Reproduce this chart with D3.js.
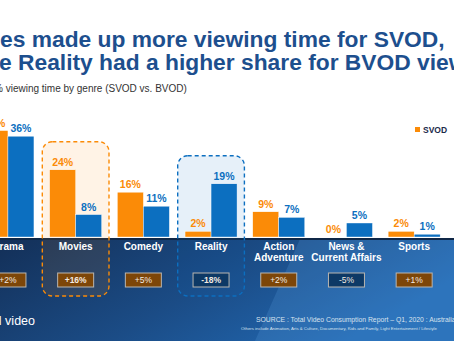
<!DOCTYPE html>
<html>
<head>
<meta charset="utf-8">
<script src="https://cdn.jsdelivr.net/npm/d3@7"></script>
<style>
  body { margin: 0; background: #fff; }
  svg { display: block; font-family: "Liberation Sans", Arial, sans-serif; }
</style>
</head>
<body>
<div id="chart"></div>
<script>
// genre share of viewing time, SVOD vs BVOD
var genres = ["Drama", "Movies", "Comedy", "Reality", "Action Adventure", "News & Current Affairs", "Sports"];
var genreLines = [["Drama"], ["Movies"], ["Comedy"], ["Reality"], ["Action", "Adventure"], ["News &", "Current Affairs"], ["Sports"]];
var svod = [38, 24, 16, 2, 9, 0, 2];
var bvod = [36, 8, 11, 19, 7, 5, 1];
var diffs = ["+2%", "+16%", "+5%", "-18%", "+2%", "-5%", "+1%"];
var series = ["SVOD", "BVOD"];
var highlights = [{ genre: "Movies", key: "SVOD" }, { genre: "Reality", key: "BVOD" }];

var svgWidth = 454;
var svgHeight = 341;
var baseY = 237;

var colors = { SVOD: "#fb8b07", BVOD: "#0c6fc0" };

var svg = d3.select("#chart")
  .append("svg")
  .attr("width", svgWidth)
  .attr("height", svgHeight);

var defs = svg.append("defs");
var bg = defs.append("linearGradient").attr("id", "bg").attr("x1", 0).attr("x2", 1).attr("y1", 0).attr("y2", 0.4);
bg.append("stop").attr("offset", "0%").attr("stop-color", "#132f57");
bg.append("stop").attr("offset", "55%").attr("stop-color", "#1b4c86");
bg.append("stop").attr("offset", "100%").attr("stop-color", "#2168b2");

// dark footer band under the bars
svg.append("rect")
  .attr("x", 0).attr("y", baseY + 1)
  .attr("width", svgWidth).attr("height", svgHeight - baseY - 1)
  .attr("fill", "url(#bg)");
svg.append("polygon")
  .attr("points", "255,341 300,239 454,239 454,341")
  .attr("fill", "#5aa0e0").attr("opacity", 0.22);
svg.append("rect")
  .attr("x", 0).attr("y", baseY + 1)
  .attr("width", svgWidth).attr("height", 2)
  .attr("fill", "#0f2747");

// title + subtitle
var title = svg.append("g").attr("fill", "#1d4f8e").attr("font-weight", "bold").attr("font-size", 22.8);
title.append("text").attr("x", 0).attr("y", 47).text("es made up more viewing time for SVOD,");
title.append("text").attr("x", -1).attr("y", 70).text("e Reality had a higher share for BVOD viewers");

svg.append("text")
  .attr("x", -6).attr("y", 92)
  .attr("font-size", 10).attr("fill", "#333")
  .text("% viewing time by genre (SVOD vs. BVOD)");

// scales
var x0 = d3.scaleBand().domain(genres).range([-25.9, 448]).padding(0);
var x1 = d3.scaleBand().domain(series).range([0, 52]);
var groupPad = (x0.bandwidth() - 52) / 2;
var y = d3.scaleLinear().domain([0, 40]).range([baseY, 125]);

var rows = genres.map(function(g, i) {
  return { genre: g, SVOD: svod[i], BVOD: bvod[i], diff: diffs[i], lines: genreLines[i] };
});

// highlight boxes behind Movies and Reality
highlights.forEach(function(h) {
  var row = rows.find(function(r) { return r.genre === h.genre; });
  var top = y(Math.max(row.SVOD, row.BVOD)) - 28;
  svg.append("rect")
    .attr("x", x0(h.genre) + 0.5)
    .attr("y", top)
    .attr("width", x0.bandwidth() - 1)
    .attr("height", 296 - top)
    .attr("rx", 10)
    .attr("fill", colors[h.key])
    .attr("fill-opacity", 0.1)
    .attr("stroke", colors[h.key])
    .attr("stroke-width", 1.4)
    .attr("stroke-dasharray", "4,3");
});

// bars
var groups = svg.selectAll(".genre")
  .data(rows)
  .enter().append("g")
  .attr("class", "genre")
  .attr("transform", function(d) { return "translate(" + (x0(d.genre) + groupPad) + ",0)"; });

groups.selectAll("rect")
  .data(function(d) { return series.map(function(k) { return { key: k, value: d[k] }; }); })
  .enter().append("rect")
  .attr("x", function(d) { return x1(d.key); })
  .attr("y", function(d) { return y(d.value); })
  .attr("width", x1.bandwidth())
  .attr("height", function(d) { return baseY - y(d.value); })
  .attr("fill", function(d) { return colors[d.key]; })
  .attr("stroke", "#fff")
  .attr("stroke-width", 0.4);

groups.selectAll(".val")
  .data(function(d) { return series.map(function(k) { return { key: k, value: d[k] }; }); })
  .enter().append("text")
  .attr("class", "val")
  .attr("x", function(d) { return x1(d.key) + x1.bandwidth() / 2; })
  .attr("y", function(d) { return y(d.value) - 4; })
  .attr("text-anchor", "middle")
  .attr("font-size", 10.5)
  .attr("font-weight", "bold")
  .attr("fill", function(d) { return colors[d.key]; })
  .text(function(d) { return d.value + "%"; });

// genre labels on a bottom axis
var xAxis = svg.append("g")
  .attr("transform", "translate(0," + 243 + ")")
  .call(d3.axisBottom(x0).tickSize(0).tickPadding(0));
xAxis.select(".domain").remove();
xAxis.selectAll(".tick text").each(function(g) {
  var t = d3.select(this).text(null)
    .attr("fill", "#fff")
    .attr("font-size", 10)
    .attr("font-weight", "bold")
    .attr("font-family", "Liberation Sans, Arial, sans-serif");
  genreLines[genres.indexOf(g)].forEach(function(line, i) {
    t.append("tspan").attr("x", 0).attr("dy", i === 0 ? "0.71em" : "1.05em").text(line);
  });
});

// difference badges
var badges = svg.selectAll(".badge")
  .data(rows)
  .enter().append("g")
  .attr("class", "badge")
  .attr("transform", function(d) { return "translate(" + (x0(d.genre) + x0.bandwidth() / 2) + ",280)"; });

badges.append("rect")
  .attr("x", -18).attr("y", -7)
  .attr("width", 36).attr("height", 14)
  .attr("fill", function(d) { return d.diff[0] === "-" ? "#0d3966" : "#7d4608"; })
  .attr("stroke", "#b9b6b0")
  .attr("stroke-width", 1);

badges.append("text")
  .attr("y", 3.2)
  .attr("text-anchor", "middle")
  .attr("font-size", 8.5)
  .attr("font-weight", function(d) { return Math.abs(parseInt(d.diff)) > 10 ? "bold" : "normal"; })
  .attr("fill", "#f3ebe2")
  .text(function(d) { return d.diff; });

// legend
var legend = svg.append("g").attr("transform", "translate(415,127)");
series.forEach(function(k, i) {
  legend.append("rect").attr("x", i * 40).attr("y", 0).attr("width", 5).attr("height", 5).attr("fill", colors[k]);
  legend.append("text").attr("x", i * 40 + 8).attr("y", 5.5)
    .attr("font-size", 8.5).attr("font-weight", "bold").attr("fill", "#1b2a4a").text(k);
});

// footer text
svg.append("text")
  .attr("x", 35).attr("y", 325)
  .attr("text-anchor", "end")
  .attr("font-size", 12.5).attr("fill", "#fff")
  .text("Total video");

svg.append("text")
  .attr("x", 256).attr("y", 322)
  .attr("font-size", 6.8).attr("fill", "#d8e2ee")
  .text("SOURCE : Total Video Consumption Report – Q1, 2020 : Australians aged 18+");

svg.append("text")
  .attr("x", 241).attr("y", 330)
  .attr("font-size", 4.3).attr("fill", "#d8e2ee")
  .text("Others include Animation, Arts & Culture, Documentary, Kids and Family, Light Entertainment / Lifestyle");
</script>
</body>
</html>
